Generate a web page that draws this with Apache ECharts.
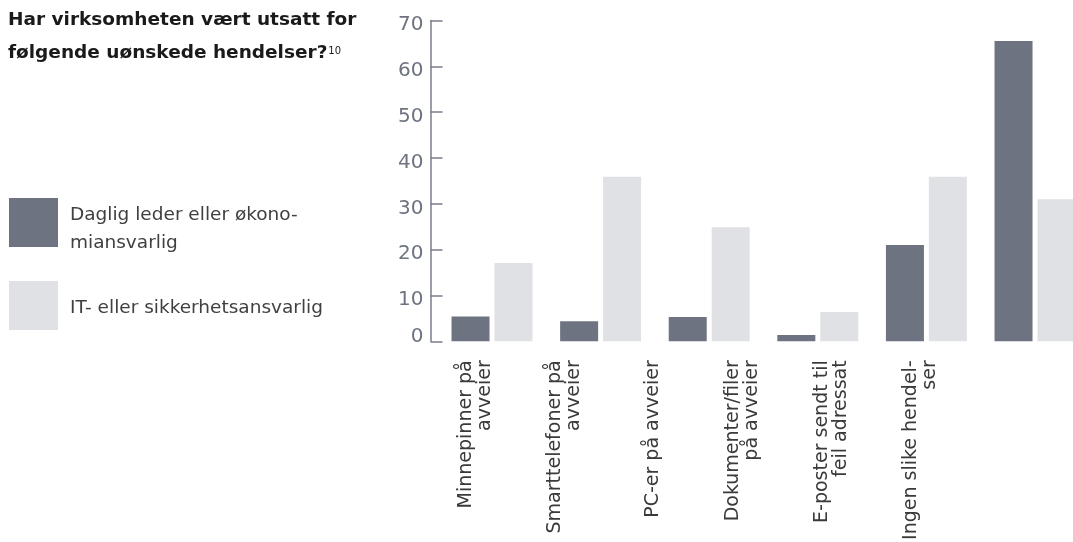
<!DOCTYPE html>
<html>
<head>
<meta charset="utf-8">
<script src="https://cdn.jsdelivr.net/npm/echarts@6/dist/echarts.min.js"></script>
<style>html,body{margin:0;padding:0;background:#fff;overflow:hidden;}#chart{width:1073px;height:542px;}</style>
</head>
<body>
<div id="chart"></div>
<script>
const categories = [
  'Minnepinner på\navveier',
  'Smarttelefoner på\navveier',
  'PC-er på avveier',
  'Dokumenter/filer\npå avveier',
  'E-poster sendt til\nfeil adressat',
  'Ingen slike hendel-\nser'
];
const seriesNames = ['Daglig leder eller økonomiansvarlig', 'IT- eller sikkerhetsansvarlig'];
const legendLabels = ['Daglig leder eller økono-\nmiansvarlig', 'IT- eller sikkerhetsansvarlig'];
const leaderValues = [5.4, 4.4, 5.3, 1.4, 21.0, 65.5];
const itValues = [17.1, 35.9, 24.9, 6.4, 35.9, 31.0];
const yMin = 0, yMax = 70, yInterval = 10;

const chart = echarts.init(document.getElementById('chart'), null, {renderer: 'canvas'});
const plotTop = 20.5, plotHeight = 320.8;
const legendText = { fontFamily: 'DejaVu Sans', fontSize: 18.5, color: '#404040', lineHeight: 28, padding: [0, 0, 0, 7] };
function legendFormatter(name) { return legendLabels[seriesNames.indexOf(name)]; }
chart.setOption({
  animation: false,
  backgroundColor: '#ffffff',
  title: {
    left: 8, top: 4, padding: 0,
    text: 'Har virksomheten vært utsatt for\nfølgende uønskede hendelser?{sup|10}',
    textStyle: {
      fontFamily: 'DejaVu Sans', fontWeight: 'bold', fontSize: 18.5, color: '#1a1a1a', lineHeight: 33,
      rich: { sup: { fontFamily: 'DejaVu Sans', fontSize: 10, fontWeight: 'normal', color: '#1a1a1a', verticalAlign: 'top', padding: [9, 0, 0, 1] } }
    }
  },
  legend: [
    {
      orient: 'vertical', left: 9, top: 198, padding: 0,
      itemWidth: 49, itemHeight: 62,
      icon: 'path://M0,0h49v49h-49zM0,61.95h0.05v0.05h-0.05z',
      data: [seriesNames[0]],
      formatter: legendFormatter,
      textStyle: legendText,
      selectedMode: false
    },
    {
      orient: 'vertical', left: 9, top: 281, padding: 0,
      itemWidth: 49, itemHeight: 55,
      icon: 'path://M0,0h49v49h-49zM0,54.95h0.05v0.05h-0.05z',
      data: [seriesNames[1]],
      formatter: legendFormatter,
      textStyle: legendText,
      selectedMode: false
    }
  ],
  grid: [
    { left: 437.7, top: plotTop, width: 651.6, height: plotHeight, containLabel: false, outerBoundsMode: 'none' },
    { left: 430.5, top: plotTop, width: 535, height: plotHeight, containLabel: false, outerBoundsMode: 'none' }
  ],
  xAxis: [
    { type: 'category', gridIndex: 0, data: categories, axisLine: {show: false}, axisTick: {show: false}, axisLabel: {show: false}, splitLine: {show: false} },
    { type: 'category', gridIndex: 1, data: categories, axisLine: {show: false}, axisTick: {show: false}, splitLine: {show: false},
      axisLabel: { show: true, interval: 0, rotate: 90, margin: 19, fontFamily: 'DejaVu Sans', fontSize: 19, lineHeight: 19, color: '#3a3a3a' } }
  ],
  yAxis: [
    { type: 'value', gridIndex: 0, min: yMin, max: yMax, interval: yInterval, show: false, splitLine: {show: false} },
    { type: 'value', gridIndex: 1, min: yMin, max: yMax, interval: yInterval,
      axisLine: { show: true, lineStyle: { color: '#7a7e8a', width: 1.5 } },
      axisTick: { show: true, inside: true, length: 12, lineStyle: { color: '#7a7e8a', width: 1.5 } },
      axisLabel: {
        margin: 7, fontFamily: 'DejaVu Sans', fontSize: 20, color: '#6e7380',
        formatter: function (v) { return v === 0 ? '{z|' + v + '}' : '{n|' + v + '}'; },
        rich: {
          n: { fontFamily: 'DejaVu Sans', fontSize: 20, color: '#6e7380', padding: [9, 0, 0, 0] },
          z: { fontFamily: 'DejaVu Sans', fontSize: 20, color: '#6e7380', padding: [0, 0, 10, 0] }
        }
      },
      splitLine: { show: false } }
  ],
  series: [
    { name: seriesNames[0], type: 'bar', xAxisIndex: 0, yAxisIndex: 0, data: leaderValues, barWidth: 38, barGap: '13%', itemStyle: { color: '#6d7380' } },
    { name: seriesNames[1], type: 'bar', xAxisIndex: 0, yAxisIndex: 0, data: itValues, barWidth: 38, barGap: '13%', itemStyle: { color: '#e0e1e5' } }
  ]
});
</script>
</body>
</html>
